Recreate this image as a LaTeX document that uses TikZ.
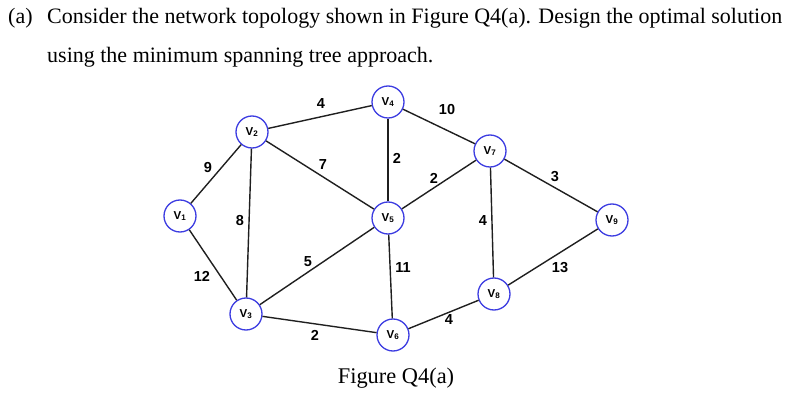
\documentclass[tikz,border=0pt]{standalone}
\usepackage{fontspec}
\setmainfont{Liberation Serif}
\setsansfont{Liberation Sans}
\definecolor{vblue}{RGB}{60,60,225}
\begin{document}
\begin{tikzpicture}[x=1pt,y=-1pt,
  vert/.style={circle,draw=vblue,line width=1.3pt,minimum size=32pt,inner sep=0pt,fill=white,
    font=\sffamily\bfseries\fontsize{11.5}{11.5}\selectfont},
  edge/.style={line width=1.4pt,draw=black!88},
  wlab/.style={font=\sffamily\bfseries\fontsize{14.5}{14.5}\selectfont,inner sep=0pt},
  body/.style={font=\fontsize{22}{22}\selectfont,inner sep=0pt,anchor=base west}]
\useasboundingbox (0,0) rectangle (807,406);

\node[body] (qa) at (8,24) {(a)};
\node[body] (q1) at (47,24) {Consider the network topology shown in Figure Q4(a). Design the optimal solution};
\node[body] (q2) at (47,63) {using the minimum spanning tree approach.};

\node[vert] (v1) at (180,216) {V\textsubscript{1}};
\node[vert] (v2) at (252,132) {V\textsubscript{2}};
\node[vert] (v3) at (246,314) {V\textsubscript{3}};
\node[vert] (v4) at (388,102) {V\textsubscript{4}};
\node[vert] (v5) at (388,218) {V\textsubscript{5}};
\node[vert] (v6) at (393,335) {V\textsubscript{6}};
\node[vert] (v7) at (490,151) {V\textsubscript{7}};
\node[vert] (v8) at (494,294) {V\textsubscript{8}};
\node[vert] (v9) at (612,220) {V\textsubscript{9}};

\draw[edge] (v1) -- (v2);
\draw[edge] (v1) -- (v3);
\draw[edge] (v2) -- (v3);
\draw[edge] (v2) -- (v4);
\draw[edge] (v2) -- (v5);
\draw[edge] (v4) -- (v5);
\draw[edge] (v4) -- (v7);
\draw[edge] (v5) -- (v7);
\draw[edge] (v3) -- (v5);
\draw[edge] (v5) -- (v6);
\draw[edge] (v3) -- (v6);
\draw[edge] (v6) -- (v8);
\draw[edge] (v7) -- (v8);
\draw[edge] (v7) -- (v9);
\draw[edge] (v8) -- (v9);

\node[wlab] (w24) at (321,104) {4};
\node[wlab] (w12) at (208,168) {9};
\node[wlab] (w25) at (323,165) {7};
\node[wlab] (w23) at (240,221) {8};
\node[wlab] (w45) at (397,158) {2};
\node[wlab] (w47) at (447,110) {10};
\node[wlab] (w57) at (434,178) {2};
\node[wlab] (w78) at (483,221) {4};
\node[wlab] (w79) at (555,177) {3};
\node[wlab] (w89) at (560,268) {13};
\node[wlab] (w13) at (202,276) {12};
\node[wlab] (w35) at (308,262) {5};
\node[wlab] (w56) at (403,268) {11};
\node[wlab] (w36) at (315,335) {2};
\node[wlab] (w68) at (449,320) {4};

\node[font=\fontsize{22.4}{22.4}\selectfont,inner sep=0pt,anchor=base] (cap) at (396,384) {Figure Q4(a)};
\end{tikzpicture}
\end{document}
